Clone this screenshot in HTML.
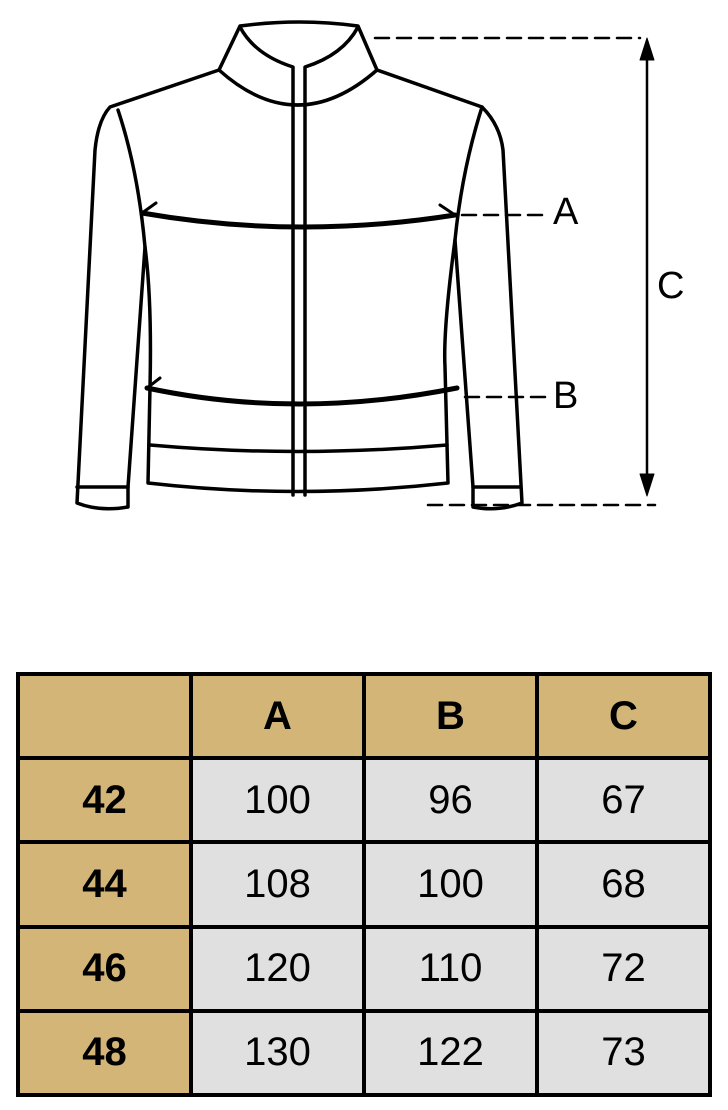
<!DOCTYPE html>
<html><head><meta charset="utf-8"><style>
body{margin:0;width:728px;height:1110px;background:#fff;overflow:hidden;position:relative;font-family:"Liberation Sans",sans-serif}
svg{position:absolute;left:0;top:0}
table{position:absolute;left:16px;top:672px;border-collapse:collapse;width:696px;height:425px}
td{border:4px solid #000;text-align:center;font-size:40px;background:#e0e0e0;width:25%;padding:0}
tr.h td,td.h{background:#d2b577;font-weight:bold}
</style></head><body>
<svg width="728" height="620" viewBox="0 0 728 620" fill="none" stroke="#000" stroke-width="3.5" stroke-linejoin="round" stroke-linecap="round">
<path d="M240,26 Q299,18 358,26 L377,70 L482,107 Q500,125 503,150 L522,503 Q498,512 473,507 L473,487 L455,240 Q443,330 445,367 L448,483 Q297,500 148,483 L150,387 Q152,300 145,247 L128,487 L128,507 Q100,512 77,503 L95,150 Q98,120 110,107 L219,70 Z"/>
<path d="M219,70 Q297,140 377,70"/>
<path d="M240,27 Q255,55 293,67 L293,495 M358,27 Q343,55 305,67 L305,495"/>
<path d="M118,110 Q138,170 145,247 M482,107 Q462,170 455,240"/>
<path d="M77,487 L128,487 M473,487 L520,487"/>
<path d="M150,445 Q297,458 447,445"/>
<path d="M142,213 Q297,240 455,215" stroke-width="5"/>
<path d="M147,388 Q297,420 457,388" stroke-width="5"/>
<path d="M142,213 L156,203 M142,213 L155,216 M455,215 L440,205 M147,388 L160,378" stroke-width="3"/>
<g stroke-dasharray="14,8" stroke-width="2.5">
<path d="M375,38 L640,38"/><path d="M462,215 L548,215"/><path d="M465,397 L548,397"/><path d="M428,505 L655,505"/>
</g>
<path d="M647,42 L647,492" stroke-width="2.5"/>
<path d="M640,60 L647,38 L654,60 Z M640,474 L647,496 L654,474 Z" fill="#000" stroke-width="1"/>
<g fill="#000" stroke="none" font-size="38" font-family="Liberation Sans,sans-serif">
<text x="553" y="224">A</text><text x="553" y="408">B</text><text x="657" y="298">C</text>
</g>
</svg>
<table>
<tr class="h"><td></td><td>A</td><td>B</td><td>C</td></tr>
<tr><td class="h">42</td><td>100</td><td>96</td><td>67</td></tr>
<tr><td class="h">44</td><td>108</td><td>100</td><td>68</td></tr>
<tr><td class="h">46</td><td>120</td><td>110</td><td>72</td></tr>
<tr><td class="h">48</td><td>130</td><td>122</td><td>73</td></tr>
</table>
</body></html>
